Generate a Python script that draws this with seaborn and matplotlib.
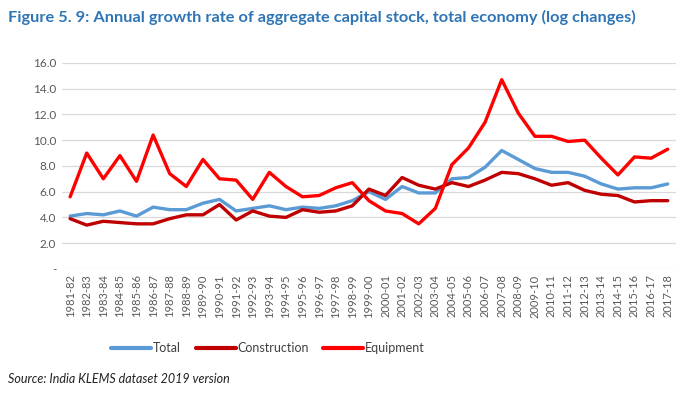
import matplotlib
matplotlib.use("Agg")
import matplotlib.pyplot as plt
import seaborn as sns
import pandas as pd

years = ["1981-82", "1982-83", "1983-84", "1984-85", "1985-86", "1986-87", "1987-88", "1988-89",
         "1989-90", "1990-91", "1991-92", "1992-93", "1993-94", "1994-95", "1995-96", "1996-97",
         "1997-98", "1998-99", "1999-00", "2000-01", "2001-02", "2002-03", "2003-04", "2004-05",
         "2005-06", "2006-07", "2007-08", "2008-09", "2009-10", "2010-11", "2011-12", "2012-13",
         "2013-14", "2014-15", "2015-16", "2016-17", "2017-18"]
total = [4.1, 4.3, 4.2, 4.5, 4.1, 4.8, 4.6, 4.6, 5.1, 5.4, 4.5, 4.7, 4.9, 4.6, 4.8, 4.7,
         4.9, 5.3, 6.0, 5.4, 6.4, 5.9, 5.9, 7.0, 7.1, 7.9, 9.2, 8.5, 7.8, 7.5, 7.5, 7.2,
         6.6, 6.2, 6.3, 6.3, 6.6]
construction = [3.9, 3.4, 3.7, 3.6, 3.5, 3.5, 3.9, 4.2, 4.2, 5.0, 3.8, 4.5, 4.1, 4.0, 4.6, 4.4,
                4.5, 4.9, 6.2, 5.7, 7.1, 6.5, 6.2, 6.7, 6.4, 6.9, 7.5, 7.4, 7.0, 6.5, 6.7, 6.1,
                5.8, 5.7, 5.2, 5.3, 5.3]
equipment = [5.6, 9.0, 7.0, 8.8, 6.8, 10.4, 7.4, 6.4, 8.5, 7.0, 6.9, 5.4, 7.5, 6.4, 5.6, 5.7,
             6.3, 6.7, 5.3, 4.5, 4.3, 3.5, 4.7, 8.1, 9.4, 11.4, 14.7, 12.1, 10.3, 10.3, 9.9, 10.0,
             8.6, 7.3, 8.7, 8.6, 9.3]
series_names = ["Total", "Construction", "Equipment"]
colors = ["#5b9bd5", "#c00000", "#ff0000"]
yticks = [0, 2, 4, 6, 8, 10, 12, 14, 16]
ytick_labels = ["-", "2.0", "4.0", "6.0", "8.0", "10.0", "12.0", "14.0", "16.0"]

sns.set_theme(style="white")
plt.rcParams["font.family"] = ["Lato", "DejaVu Sans"]

rows = []
for name, vals in zip(series_names, [total, construction, equipment]):
    for i, (y, v) in enumerate(zip(years, vals)):
        rows.append({"idx": i, "year": y, "value": v, "series": name})
df = pd.DataFrame(rows)

fig = plt.figure(figsize=(6.87, 3.96), dpi=100)
ax = fig.add_axes([0.090, 0.321, 0.894, 0.520])
sns.lineplot(data=df, x="idx", y="value", hue="series", hue_order=series_names,
             palette=colors, linewidth=2.4, ax=ax, legend=False, sort=False)

ax.set_xlim(-0.5, len(years) - 0.5)
ax.set_ylim(0, 16)
ax.set_yticks(yticks)
ax.set_yticklabels(ytick_labels, fontsize=8.5, color="#595959")
ax.set_xticks(range(len(years)))
ax.set_xticklabels(years, rotation=90, fontsize=8, color="#595959")
ax.set_xlabel("")
ax.set_ylabel("")
ax.yaxis.grid(True, color="#d9d9d9", linewidth=0.9)
ax.xaxis.grid(False)
for s in ax.spines.values():
    s.set_visible(False)
ax.tick_params(axis="both", length=0, pad=4)

handles = [plt.Line2D([], [], color=c, linewidth=3) for c in colors]
fig.legend(handles, series_names, loc="center", bbox_to_anchor=(0.39, 0.121), ncol=3,
           frameon=False, fontsize=9, handlelength=3.2, handletextpad=0.1,
           columnspacing=1.2, labelcolor="#404040")

fig.text(0.012, 0.955, "Figure 5. 9: Annual growth rate of aggregate capital stock, total economy (log changes)",
         fontsize=11.8, fontweight="bold", color="#2f75b5", ha="left", va="center")
fig.text(0.012, 0.043, "Source: India KLEMS dataset 2019 version", fontsize=9, style="italic",
         color="#222222", ha="left", va="center")

fig.savefig("out.png", dpi=100)
